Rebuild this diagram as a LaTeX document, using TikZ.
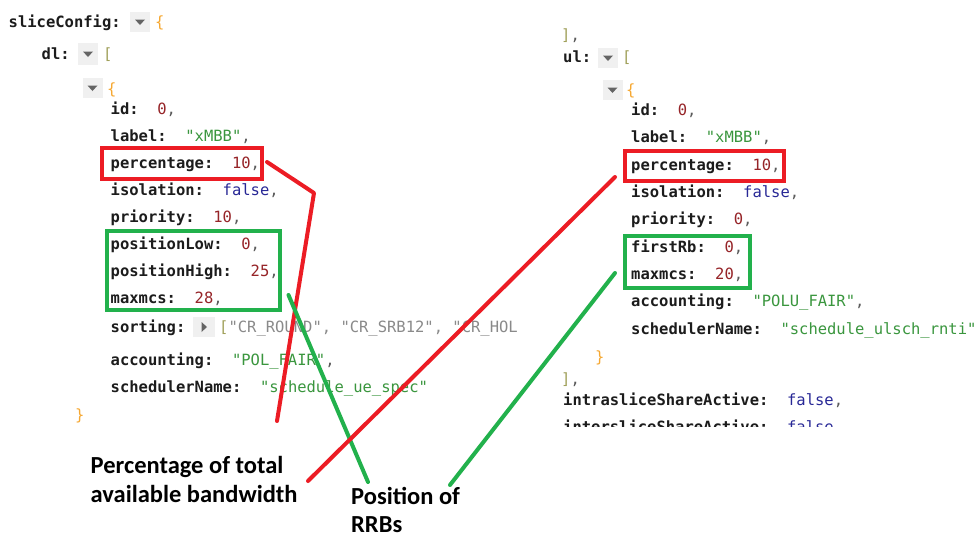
\documentclass[tikz,border=0pt]{standalone}
\usepackage{fontspec}
\newfontfamily\jsonfont{DejaVu Sans Mono}
\newfontfamily\notefont{Carlito}
\usetikzlibrary{calc}

% JSON viewer palette
\definecolor{keyc}{RGB}{28,28,28}
\definecolor{numc}{RGB}{150,36,40}
\definecolor{strc}{RGB}{58,150,62}
\definecolor{boolc}{RGB}{40,40,150}
\definecolor{bracec}{RGB}{246,168,50}
\definecolor{brackc}{RGB}{160,160,90}
\definecolor{punctc}{RGB}{90,90,90}
\definecolor{grayc}{RGB}{138,138,138}
\definecolor{togbg}{RGB}{240,240,240}
\definecolor{togfg}{RGB}{100,100,100}
\definecolor{markred}{RGB}{236,28,36}
\definecolor{markgreen}{RGB}{34,177,76}

\newcommand\jkey[1]{{\bfseries\color{keyc}#1}}
\newcommand\jnum[1]{\textcolor{numc}{#1}}
\newcommand\jstr[1]{\textcolor{strc}{"#1"}}
\newcommand\jbool[1]{\textcolor{boolc}{#1}}
\newcommand\jcom{\textcolor{punctc}{,}}
\newcommand\jgap{\hspace{1.204em}}

\begin{document}
\begin{tikzpicture}[x=1pt,y=-1pt,
  row/.style={anchor=base west,inner sep=0pt,font=\jsonfont\fontsize{15.5}{18}\selectfont},
  togbox/.style={fill=togbg,inner sep=0pt,minimum width=20pt,minimum height=20pt,
    path picture={\fill[togfg] (path picture bounding box.center) ++(-5,-2.5) -- ++(10,0) -- ++(-5,5.5) -- cycle;}},
  togside/.style={fill=togbg,inner sep=0pt,minimum width=22pt,minimum height=20pt,
    path picture={\fill[togfg] (path picture bounding box.center) ++(-2.5,-5) -- ++(0,10) -- ++(5.5,-5) -- cycle;}},
  markbox/.style={draw,line width=4pt,inner sep=0pt},
  redbox/.style={markbox,draw=markred},
  greenbox/.style={markbox,draw=markgreen},
  redlink/.style={draw=markred,line width=4pt,line cap=round,line join=round},
  greenlink/.style={draw=markgreen,line width=4pt,line cap=round,line join=round},
  note/.style={anchor=base west,inner sep=0pt,font=\notefont\bfseries\fontsize{24.5}{29}\selectfont}
]
\useasboundingbox[fill=white] (0,0) rectangle (980,536);

% ---------- downlink slice (left column) ----------
\node[row] (sc) at (8.5,27) {\jkey{sliceConfig:}};
\node[togbox] (tsc) at (140,22) {};
\node[row] (scb) at (155,27) {\textcolor{bracec}{\{}};
\node[row] (dl) at (41.5,59) {\jkey{dl:}};
\node[togbox,minimum height=22pt] (tdl) at (88,54) {};
\node[row] (dlb) at (103,59) {\textcolor{brackc}{[}};
\node[togbox] (tdo) at (92.5,88) {};
\node[row] (dlo) at (107,94) {\textcolor{bracec}{\{}};

\node[row] (l1) at (110.5,114) {\jkey{id:}\jgap\jnum{0}\jcom};
\node[row] (l2) at (110.5,141) {\jkey{label:}\jgap\jstr{xMBB}\jcom};
\node[row] (l3) at (110.5,168) {\jkey{percentage:}\jgap\jnum{10}\jcom};
\node[row] (l4) at (110.5,195) {\jkey{isolation:}\jgap\jbool{false}\jcom};
\node[row] (l5) at (110.5,222) {\jkey{priority:}\jgap\jnum{10}\jcom};
\node[row] (l6) at (110.5,249.5) {\jkey{positionLow:}\jgap\jnum{0}\jcom};
\node[row] (l7) at (110.5,276.5) {\jkey{positionHigh:}\jgap\jnum{25}\jcom};
\node[row] (l8) at (110.5,303.5) {\jkey{maxmcs:}\jgap\jnum{28}\jcom};
\node[row] (l9) at (110.5,332) {\jkey{sorting:}};
\node[togside] (tso) at (204,327) {};
\node[row] (l9v) at (219,332) {\textcolor{brackc}{[}\textcolor{grayc}{"CR\_ROUND", "CR\_SRB12", "CR\_HOL}};
\node[row] (l10) at (110.5,365) {\jkey{accounting:}\jgap\jstr{POL\_FAIR}\jcom};
\node[row] (l11) at (110.5,392) {\jkey{schedulerName:}\jgap\jstr{schedule\_ue\_spec}};
\node[row] (dlc) at (75,420) {\textcolor{bracec}{\}}};

% ---------- uplink slice (right column) ----------
\node[row] (ulp) at (561,40) {\textcolor{brackc}{]}\jcom};
\node[row] (ul) at (563,62) {\jkey{ul:}};
\node[togbox] (tul) at (608,58) {};
\node[row] (ulb) at (622,62) {\textcolor{brackc}{[}};
\node[togbox] (tuo) at (612.5,90) {};
\node[row] (ulo) at (626,95) {\textcolor{bracec}{\{}};

\node[row] (r1) at (631,115.5) {\jkey{id:}\jgap\jnum{0}\jcom};
\node[row] (r2) at (631,142.5) {\jkey{label:}\jgap\jstr{xMBB}\jcom};
\node[row] (r3) at (631,170) {\jkey{percentage:}\jgap\jnum{10}\jcom};
\node[row] (r4) at (631,197) {\jkey{isolation:}\jgap\jbool{false}\jcom};
\node[row] (r5) at (631,224.5) {\jkey{priority:}\jgap\jnum{0}\jcom};
\node[row] (r6) at (631,252) {\jkey{firstRb:}\jgap\jnum{0}\jcom};
\node[row] (r7) at (631,279) {\jkey{maxmcs:}\jgap\jnum{20}\jcom};
\node[row] (r8) at (631,306.5) {\jkey{accounting:}\jgap\jstr{POLU\_FAIR}\jcom};
\node[row] (r9) at (631,334) {\jkey{schedulerName:}\jgap\jstr{schedule\_ulsch\_rnti}};
\node[row] (ulc) at (595,362) {\textcolor{bracec}{\}}};
\node[row] (ule) at (561,384) {\textcolor{brackc}{]}\jcom};
\node[row] (r10) at (563,405.5) {\jkey{intrasliceShareActive:}\jgap\jbool{false}\jcom};
\begin{scope}
  \clip (540,380) rectangle (980,426.5);
  \node[row] (r11) at (563,432.5) {\jkey{intersliceShareActive:}\jgap\jbool{false}\jcom};
\end{scope}

% ---------- highlight boxes ----------
\node[redbox,minimum width=160pt,minimum height=31pt] (pctL) at (182,163.5) {};
\node[greenbox,minimum width=173pt,minimum height=79pt] (posL) at (193.5,270.5) {};
\node[redbox,minimum width=159.5pt,minimum height=30pt] (pctR) at (704.3,165.5) {};
\node[greenbox,minimum width=125pt,minimum height=52pt] (posR) at (687.5,262) {};

% ---------- annotations ----------
\node[note] (bwA) at (90.5,473) {Percentage of total};
\node[note] (bwB) at (90.5,502) {available bandwidth};
\node[note] (rbA) at (351,504.5) {Position of};
\node[note] (rbB) at (351,532) {RRBs};

\coordinate (pctLs) at (267,162);
\coordinate (pctLk) at (314,193);
\coordinate (pctLe) at (277,421);
\coordinate (pctRs) at (615,177);
\coordinate (pctRe) at (308,481);
\coordinate (posLs) at (288.5,295);
\coordinate (posLe) at (368,482);
\coordinate (posRs) at (615,273);
\coordinate (posRe) at (450,485);

\draw[redlink] (pctLs) -- (pctLk) -- (pctLe);
\draw[greenlink] (posLs) -- (posLe);
\draw[redlink] (pctRs) -- (pctRe);
\draw[greenlink] (posRs) -- (posRe);
\end{tikzpicture}
\end{document}
